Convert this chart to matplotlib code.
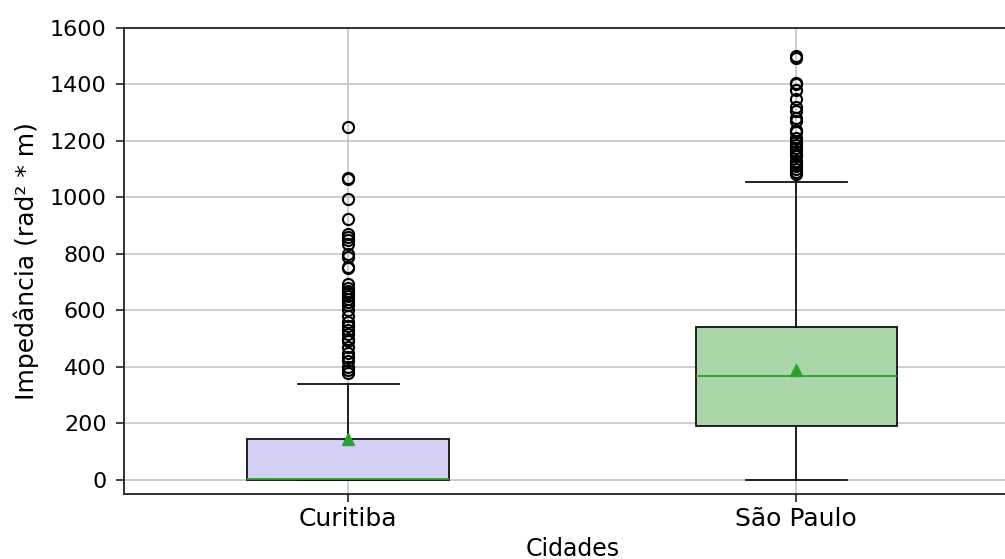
import matplotlib
matplotlib.use("Agg")
from matplotlib import pyplot as plt

# Cities and box statistics
cities = ["Curitiba", "São Paulo"]
q1 = [0, 191]
medians = [2, 366]
q3 = [145, 541]
whisker_low = [0, 0]
whisker_high = [340, 1056]
means = [145, 390]

# Outliers (approximate)
outliers_curitiba = [1250, 1070, 1065, 995, 925, 870, 860, 850, 835, 800, 790,
                     755, 750, 695, 680, 670, 660, 650, 640, 630, 620, 600, 580,
                     560, 545, 530, 515, 500, 490, 470, 450, 435, 420, 400, 390, 378]
outliers_sao_paulo = [1500, 1495, 1405, 1400, 1380, 1350, 1320, 1305, 1280, 1270,
                      1240, 1230, 1210, 1195, 1185, 1175, 1165, 1155, 1145, 1130,
                      1120, 1110, 1100, 1090, 1082]
outliers = [outliers_curitiba, outliers_sao_paulo]

box_colors = ["#d4cff5", "#a9d5a9"]

stats = []
for i in range(len(cities)):
    stats.append({
        "label": cities[i],
        "q1": q1[i],
        "med": medians[i],
        "q3": q3[i],
        "whislo": whisker_low[i],
        "whishi": whisker_high[i],
        "mean": means[i],
        "fliers": outliers[i],
    })

fig = plt.figure(figsize=(10.05, 5.59), dpi=100)
ax = fig.add_axes([0.1234, 0.1163, 0.892, 0.8337])

bp = ax.bxp(stats, widths=0.45, showmeans=True, patch_artist=True,
            medianprops=dict(color="tab:green", linewidth=1.3),
            meanprops=dict(marker="^", markerfacecolor="tab:green",
                           markeredgecolor="tab:green", markersize=8),
            boxprops=dict(edgecolor="#111111", linewidth=1.3),
            whiskerprops=dict(color="#111111", linewidth=1.3),
            capprops=dict(color="#111111", linewidth=1.3),
            flierprops=dict(marker="o", markerfacecolor="none",
                            markeredgecolor="black", markersize=8,
                            markeredgewidth=1.5))
for patch, c in zip(bp["boxes"], box_colors):
    patch.set_facecolor(c)

ax.set_xlim(0.5, 2.5)
ax.set_ylim(-50, 1600)
ax.set_yticks(range(0, 1601, 200))
ax.grid(True, color="#c0c0c0", linewidth=1.1)
ax.set_axisbelow(True)
for s in ax.spines.values():
    s.set_linewidth(1.3)
    s.set_color("#222222")
ax.tick_params(length=5.6, width=1.2, color="#222222")
ax.tick_params(axis="y", labelsize=16, pad=7)
ax.tick_params(axis="x", labelsize=18, pad=4)
ax.set_xlabel("Cidades", fontsize=17, labelpad=4)
ax.set_ylabel("Impedância (rad² * m)", fontsize=18, labelpad=8)

fig.savefig("out.png", dpi=100)
